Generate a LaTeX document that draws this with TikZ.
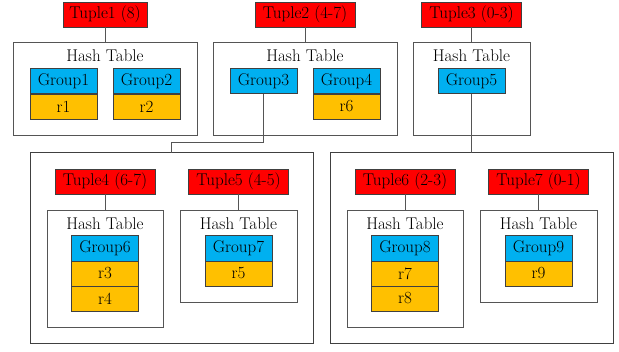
\documentclass[tikz,border=0pt]{standalone}
\definecolor{tred}{HTML}{FF0000}
\definecolor{gblue}{HTML}{00B0F0}
\definecolor{rorange}{HTML}{FFC000}
\definecolor{edge}{HTML}{404040}
\definecolor{frame}{HTML}{555555}
\begin{document}
\begin{tikzpicture}[x=1pt,y=-1pt,
  every node/.style={inner sep=0pt,outer sep=0pt,font=\fontsize{17}{19}\selectfont},
  tuplebox/.style={draw=edge,line width=0.8pt,fill=tred,minimum width=100pt,minimum height=25pt},
  grpbox/.style={draw=edge,line width=0.8pt,fill=gblue,minimum width=67pt,minimum height=25.5pt},
  recbox/.style={draw=edge,line width=0.8pt,fill=rorange,minimum width=67pt,minimum height=25pt},
  htbox/.style={draw=frame,line width=1pt,fill=white},
  outerbox/.style={draw=edge,line width=1pt,fill=white,minimum width=283pt,minimum height=191pt},
  htlabel/.style={anchor=center},
  link/.style={draw=frame,line width=0.9pt}]
\useasboundingbox (0,0) rectangle (619,352);
% top row
\node[tuplebox,minimum width=84pt] (t1) at (105,14.5) {Tuple1 (8)};
\node[tuplebox] (t2) at (305,14.5) {Tuple2 (4-7)};
\node[tuplebox] (t3) at (471.5,14.5) {Tuple3 (0-3)};
\node[htbox,minimum width=184pt,minimum height=93pt] (h1) at (105,89.5) {};
\node[htbox,minimum width=184pt,minimum height=93pt] (h2) at (305,89.5) {};
\node[htbox,minimum width=117pt,minimum height=93pt] (h3) at (471.5,89.5) {};
\node[htlabel] (l1) at (105,56) {Hash Table};
\node[htlabel] (l2) at (305,56) {Hash Table};
\node[htlabel] (l3) at (471.5,56) {Hash Table};
\node[grpbox] (g1) at (63.5,81) {Group1};
\node[recbox] (r1) at (63.5,106.5) {r1};
\node[grpbox] (g2) at (146.5,81) {Group2};
\node[recbox] (r2) at (146.5,106.5) {r2};
\node[grpbox] (g3) at (263.5,81) {Group3};
\node[grpbox] (g4) at (346.5,81) {Group4};
\node[recbox] (r6) at (346.5,106.5) {r6};
\node[grpbox] (g5) at (471.5,81) {Group5};
% outer boxes
\node[outerbox] (oL) at (171.5,248.5) {};
\node[outerbox] (oR) at (471.5,248.5) {};
% bottom left
\node[tuplebox] (t4) at (105,181.5) {Tuple4 (6-7)};
\node[tuplebox] (t5) at (238.5,181.5) {Tuple5 (4-5)};
\node[htbox,minimum width=116pt,minimum height=117pt] (h4) at (105,269.5) {};
\node[htbox,minimum width=117pt,minimum height=92pt] (h5) at (238.5,257) {};
\node[htlabel] (l4) at (105,223.5) {Hash Table};
\node[htlabel] (l5) at (238.5,223.5) {Hash Table};
\node[grpbox] (g6) at (105,248.5) {Group6};
\node[recbox] (r3) at (105,273.5) {r3};
\node[recbox] (r4) at (105,298.5) {r4};
\node[grpbox] (g7) at (238.5,248.5) {Group7};
\node[recbox] (r5) at (238.5,273.5) {r5};
% bottom right
\node[tuplebox] (t6) at (405,181.5) {Tuple6 (2-3)};
\node[tuplebox] (t7) at (538.5,181.5) {Tuple7 (0-1)};
\node[htbox,minimum width=116pt,minimum height=117pt] (h6) at (405,269.5) {};
\node[htbox,minimum width=117pt,minimum height=92pt] (h7) at (538.5,257) {};
\node[htlabel] (l6) at (405,223.5) {Hash Table};
\node[htlabel] (l7) at (538.5,223.5) {Hash Table};
\node[grpbox] (g8) at (405,248.5) {Group8};
\node[recbox] (r7) at (405,273.5) {r7};
\node[recbox] (r8) at (405,298.5) {r8};
\node[grpbox] (g9) at (538.5,248.5) {Group9};
\node[recbox] (r9) at (538.5,273.5) {r9};
% connectors
\coordinate (bend1) at (263.5,142);
\coordinate (bend2) at (171.5,142);
\draw[link] (t1.south) -- (h1.north);
\draw[link] (t2.south) -- (h2.north);
\draw[link] (t3.south) -- (h3.north);
\draw[link] (g3.south) -- (bend1) -- (bend2) -- (oL.north);
\draw[link] (g5.south) -- (oR.north);
\draw[link] (t4.south) -- (h4.north);
\draw[link] (t5.south) -- (h5.north);
\draw[link] (t6.south) -- (h6.north);
\draw[link] (t7.south) -- (h7.north);
\end{tikzpicture}
\end{document}
